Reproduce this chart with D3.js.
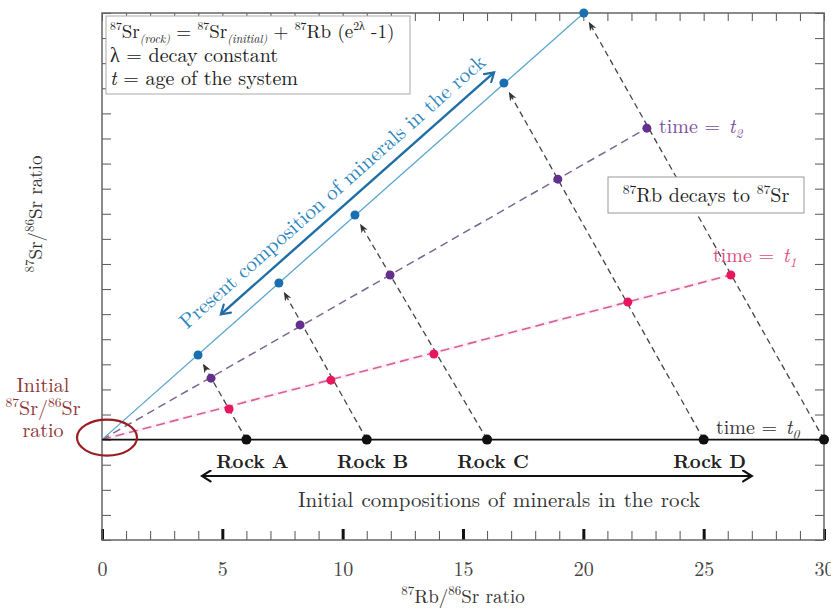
<!DOCTYPE html>
<html>
<head>
<meta charset="utf-8">
<script src="https://cdn.jsdelivr.net/npm/d3@7"></script>
<style>
  html, body { margin: 0; padding: 0; background: #fff; }
  text { white-space: pre; }
</style>
</head>
<body>
<svg id="chart" width="831" height="610" font-family="Latin Modern Roman, Liberation Serif, serif"></svg>
<script>
// Rb/Sr axis ticks and labels
const xTicks = d3.range(0, 31);
const xMajor = [0, 5, 10, 15, 20, 25, 30];
const yTicks = d3.range(0, 22);

// Rock names (the fifth sample at 30 has no label)
const rocks = ["Rock A", "Rock B", "Rock C", "Rock D"];

// Sample compositions at each stage: 87Rb/86Sr (x) and 87Sr/86Sr (y, arbitrary units)
const rbT0 = [6, 11, 16, 25, 30];
const srT0 = [4, 4, 4, 4, 4];
const rbT1 = [5.28, 9.51, 13.79, 21.85, 26.13];
const srT1 = [5.22, 6.37, 7.41, 9.48, 10.56];
const rbT2 = [4.53, 8.23, 11.97, 18.94, 22.64];
const srT2 = [6.45, 8.57, 10.56, 14.38, 16.41];
const rbNow = [3.99, 7.35, 10.51, 16.70, 20.02];
const srNow = [7.37, 10.24, 12.95, 18.21, 21.0];

// Common origin of every isochron
const origin = [0, 4];

const FONT = "Latin Modern Roman, Liberation Serif, serif";
const svg = d3.select("#chart");
const x = d3.scaleLinear().domain([0, 30]).range([102, 824]);
const y = d3.scaleLinear().domain([0, 21]).range([540, 13]);

// Rich text helper: parts = [[text, kind, dx]], kind may include sup / sub / it
function rich(g, px, py, parts, opt = {}) {
  const fs = opt.size || 20;
  const small = opt.small || 0.68;
  const t = g.append("text")
    .attr("x", px).attr("y", py)
    .attr("font-size", fs)
    .attr("font-family", FONT)
    .attr("fill", opt.color || "#222")
    .attr("text-anchor", opt.anchor || "start");
  if (opt.transform) t.attr("transform", opt.transform);
  let shift = 0;
  parts.forEach(([s, kind = "", dx = 0]) => {
    const sup = kind.includes("sup"), sub = kind.includes("sub");
    const target = sup ? -0.4 * fs : sub ? 0.25 * fs : 0;
    const ts = t.append("tspan").text(s).attr("dy", target - shift);
    if (dx) ts.attr("dx", dx);
    shift = target;
    if (sup || sub) ts.attr("font-size", fs * small);
    if (kind.includes("it")) ts.attr("font-style", "italic");
  });
  return t;
}

// Centre a start-anchored text on its own x by measuring it
function centre(t, cx) {
  const w = t.node().getComputedTextLength();
  t.attr("x", cx - w / 2);
  return t;
}

// ---- Axes (ticks point inward) ----
const frame = svg.append("g");
frame.append("g").attr("transform", `translate(0,${y(0)})`)
  .call(d3.axisBottom(x).tickValues(xTicks).tickSize(-9).tickFormat(""))
  .call(g => g.select(".domain").remove())
  .selectAll("line").attr("stroke", "#555").attr("stroke-width", 1);
frame.append("g").attr("transform", `translate(0,${y(0)})`)
  .call(d3.axisBottom(x).tickValues(xMajor).tickSize(-11).tickPadding(22).tickFormat(d3.format("d")))
  .attr("font-family", FONT)
  .call(g => g.select(".domain").remove())
  .call(g => g.selectAll("line").attr("stroke", "#111").attr("stroke-width", 3))
  .call(g => g.selectAll("text").attr("font-size", 20).attr("fill", "#444"));
frame.append("g").attr("transform", `translate(0,${y(21)})`)
  .call(d3.axisTop(x).tickValues(xTicks).tickSize(-8).tickFormat(""))
  .call(g => g.select(".domain").remove())
  .selectAll("line").attr("stroke", "#555");
frame.append("g").attr("transform", `translate(${x(0)},0)`)
  .call(d3.axisLeft(y).tickValues(yTicks).tickSize(-9).tickFormat(""))
  .call(g => g.select(".domain").remove())
  .selectAll("line").attr("stroke", "#555");
frame.append("g").attr("transform", `translate(${x(30)},0)`)
  .call(d3.axisRight(y).tickValues(yTicks).tickSize(-9).tickFormat(""))
  .call(g => g.select(".domain").remove())
  .selectAll("line").attr("stroke", "#555");
frame.append("rect")
  .attr("x", x(0)).attr("y", y(21))
  .attr("width", x(30) - x(0)).attr("height", y(0) - y(21))
  .attr("fill", "none").attr("stroke", "#666").attr("stroke-width", 1.5);

// Axis titles
centre(rich(svg, 0, 603,
  [["87", "sup"], ["Rb/"], ["86", "sup"], ["Sr ratio"]], { size: 19, color: "#333" }),
  (x(0) + x(30)) / 2);
const yTitle = svg.append("g").attr("transform", "translate(42,214) rotate(-90)");
centre(rich(yTitle, 0, 0,
  [["87", "sup"], ["Sr/"], ["86", "sup"], ["Sr ratio"]], { size: 19, color: "#333" }), 0);

// ---- Isochrons ----
const L = svg.append("g");
const line = d3.line().x(d => x(d[0])).y(d => y(d[1]));
const last = rbT0.length - 1;
L.append("path").attr("d", line([origin, [rbT1[last], srT1[last]]]))
  .attr("stroke", "#f9dbe9").attr("stroke-width", 4).attr("fill", "none").attr("opacity", 0.4);
L.append("path").attr("d", line([origin, [rbT1[last], srT1[last]]]))
  .attr("stroke", "#d4609a").attr("stroke-width", 1.6).attr("stroke-dasharray", "9,5").attr("fill", "none");
L.append("path").attr("d", line([origin, [rbT2[last], srT2[last]]]))
  .attr("stroke", "#7c6790").attr("stroke-width", 1.5).attr("stroke-dasharray", "8,5").attr("fill", "none");
L.append("path").attr("d", line([origin, [rbNow[last], srNow[last]]]))
  .attr("stroke", "#5aa6cf").attr("stroke-width", 1.3).attr("fill", "none");
L.append("path").attr("d", line([origin, [30, srT0[last]]]))
  .attr("stroke", "#111").attr("stroke-width", 1.6).attr("fill", "none");

// ---- Decay paths (dashed arrows) ----
const defs = svg.append("defs");
defs.append("marker").attr("id", "tri").attr("viewBox", "0 0 10 10")
  .attr("refX", 9).attr("refY", 5).attr("markerWidth", 9).attr("markerHeight", 9)
  .attr("markerUnits", "userSpaceOnUse").attr("orient", "auto")
  .append("path").attr("d", "M0,1 L10,5 L0,9 L3,5 Z").attr("fill", "#333");
function chevron(id, color) {
  defs.append("marker").attr("id", id).attr("viewBox", "0 0 12 12")
    .attr("refX", 10).attr("refY", 6).attr("markerWidth", 13).attr("markerHeight", 13)
    .attr("markerUnits", "userSpaceOnUse").attr("orient", "auto-start-reverse")
    .append("path").attr("d", "M2,1 L10,6 L2,11").attr("fill", "none")
    .attr("stroke", color).attr("stroke-width", 2).attr("stroke-linecap", "round");
}
chevron("chevK", "#111");
chevron("chevB", "#1f6ea6");

rbT0.forEach((r, i) => {
  const x1 = x(r), y1 = y(srT0[i]);
  const x2 = x(rbNow[i]), y2 = y(srNow[i]);
  const len = Math.hypot(x2 - x1, y2 - y1);
  const k = (len - 11) / len;
  L.append("line")
    .attr("x1", x1).attr("y1", y1)
    .attr("x2", x1 + (x2 - x1) * k).attr("y2", y1 + (y2 - y1) * k)
    .attr("stroke", "#444").attr("stroke-width", 1.3).attr("stroke-dasharray", "6,4")
    .attr("marker-end", "url(#tri)");
});

// ---- Points ----
function dots(xs, ys, color, r) {
  L.append("g").selectAll("circle").data(xs).join("circle")
    .attr("cx", d => x(d)).attr("cy", (d, i) => y(ys[i]))
    .attr("r", r).attr("fill", color);
}
dots(rbT1, srT1, "#e8175d", 4.5);
dots(rbT2, srT2, "#63308f", 4.5);
dots(rbNow, srNow, "#1a6fb0", 4.5);
dots(rbT0, srT0, "#111", 5);

// ---- Labels ----
// Rock names under the initial compositions
svg.append("g").selectAll("text").data(rocks).join("text")
  .attr("x", (d, i) => x(rbT0[i]) + 6).attr("y", 468)
  .attr("text-anchor", "middle").attr("font-size", 19).attr("font-weight", "bold")
  .attr("font-family", FONT).attr("fill", "#222").text(d => d);

// Initial-composition range arrow
svg.append("line").attr("x1", x(4.15)).attr("x2", x(27.0)).attr("y1", 476).attr("y2", 476)
  .attr("stroke", "#111").attr("stroke-width", 2.2)
  .attr("marker-start", "url(#chevK)").attr("marker-end", "url(#chevK)");
svg.append("text").attr("x", 499).attr("y", 507).attr("text-anchor", "middle")
  .attr("font-size", 21).attr("word-spacing", 1).attr("font-family", FONT).attr("fill", "#333")
  .text("Initial compositions of minerals in the rock");

// Time labels
rich(svg, 716, 434, [["time = "], ["t", "it", 2], ["0", "subit"]], { size: 20, color: "#333" });
rich(svg, 713, 262, [["time = "], ["t", "it", 2], ["1", "subit"]], { size: 20, color: "#e04a85" });
rich(svg, 659, 133, [["time = "], ["t", "it", 2], ["2", "subit"]], { size: 20, color: "#7a4fa0" });

// Decay note
svg.append("rect").attr("x", 608).attr("y", 177).attr("width", 196).attr("height", 36)
  .attr("fill", "#fff").attr("stroke", "#999").attr("stroke-width", 1);
centre(rich(svg, 0, 202, [["87", "sup"], ["Rb decays to "], ["87", "sup"], ["Sr"]],
  { size: 20, color: "#222" }), 706);

// Initial ratio marker
svg.append("ellipse").attr("cx", x(origin[0]) + 5).attr("cy", y(origin[1]) - 2)
  .attr("rx", 30).attr("ry", 18).attr("fill", "none")
  .attr("stroke", "#9a1d24").attr("stroke-width", 2.2);
const red = "#8e3535";
centre(rich(svg, 0, 392, [["Initial"]], { size: 20, color: red }), 43);
centre(rich(svg, 0, 415, [["87", "sup"], ["Sr/"], ["86", "sup"], ["Sr"]], { size: 20, color: red }), 43);
centre(rich(svg, 0, 437, [["ratio"]], { size: 20, color: red }), 43);

// Present-day isochron annotation: double arrow and rotated caption
{
  const p0 = [x(origin[0]), y(origin[1])];
  const p1 = [x(rbNow[last]), y(srNow[last])];
  const len = Math.hypot(p1[0] - p0[0], p1[1] - p0[1]);
  const u = [(p1[0] - p0[0]) / len, (p1[1] - p0[1]) / len];
  const n = [u[1], -u[0]];           // normal pointing up-left
  const at = (s, off) => [p0[0] + u[0] * s + n[0] * off, p0[1] + u[1] * s + n[1] * off];
  const a = at(172, 15), b = at(537, 15);
  svg.append("line").attr("x1", a[0]).attr("y1", a[1]).attr("x2", b[0]).attr("y2", b[1])
    .attr("stroke", "#1f6ea6").attr("stroke-width", 2.4)
    .attr("marker-start", "url(#chevB)").attr("marker-end", "url(#chevB)");
  const ang = Math.atan2(u[1], u[0]) * 180 / Math.PI;
  const c = at(337, 26);
  svg.append("text").attr("transform", `translate(${c[0]},${c[1]}) rotate(${ang})`)
    .attr("text-anchor", "middle").attr("font-size", 21).attr("font-family", FONT)
    .attr("fill", "#2b86c0")
    .text("Present composition of minerals in the rock");
}

// Equation box
const box = svg.append("g");
box.append("rect").attr("x", 106).attr("y", 16).attr("width", 304).attr("height", 78)
  .attr("fill", "#fff").attr("stroke", "#aaa").attr("stroke-width", 1);
rich(box, 110, 38, [["87", "sup"], ["Sr"], ["(rock)", "subit"], [" = "], ["87", "sup"], ["Sr"],
  ["(initial)", "subit"], [" + "], ["87", "sup"], ["Rb (e"], ["2λ", "sup"], [" -1)"]],
  { size: 19, small: 0.62 });
rich(box, 110, 62, [["λ = decay constant"]], { size: 20 });
rich(box, 110, 85, [["t", "it"], [" = age of the system"]], { size: 20 });
</script>
</body>
</html>
